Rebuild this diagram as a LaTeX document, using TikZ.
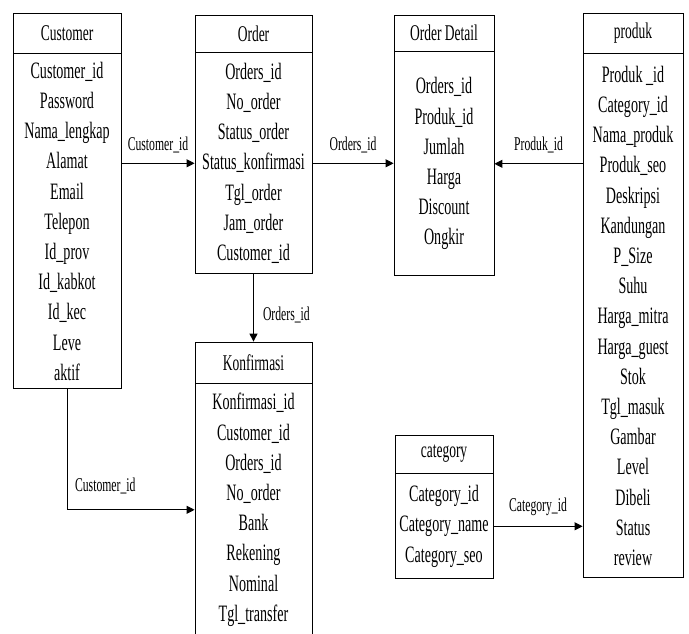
\documentclass[tikz,border=0pt]{standalone}
\usepackage{fontspec}
\setmainfont{Liberation Serif}[FakeStretch=0.6]
\usetikzlibrary{arrows.meta, positioning}
\tikzstyle{head} = [rectangle, draw=black, line width=0.8pt, text centered, font=\fontsize{22.5}{26}\selectfont]
\tikzstyle{attrs} = [rectangle, draw=black, line width=0.8pt, align=center, inner sep=1pt, font=\fontsize{23.5}{30.2}\selectfont]
\tikzstyle{arrow} = [line width=1pt, -{Triangle[length=8pt, width=8pt]}]
\tikzstyle{lbl} = [font=\fontsize{19.5}{22}\selectfont, inner sep=1pt]

\begin{document}
\begin{tikzpicture}[x=1pt, y=-1pt, node distance=0pt]
    \useasboundingbox (0,0) rectangle (689,633);
    % tables
    \node (custhead) [head, minimum width=108pt, minimum height=40pt] at (67,33) {Customer};
    \node (custbody) [attrs, minimum width=108pt, minimum height=335pt, below=of custhead] {Customer\_id\\Password\\Nama\_lengkap\\Alamat\\Email\\Telepon\\Id\_prov\\Id\_kabkot\\Id\_kec\\Leve\\aktif};
    \node (ordhead) [head, minimum width=117pt, minimum height=37pt] at (253.5,33.5) {Order};
    \node (ordbody) [attrs, minimum width=117pt, minimum height=221pt, below=of ordhead] {Orders\_id\\No\_order\\Status\_order\\Status\_konfirmasi\\Tgl\_order\\Jam\_order\\Customer\_id};
    \node (odhead) [head, minimum width=100pt, minimum height=36pt] at (444,33) {Order Detail};
    \node (odbody) [attrs, minimum width=100pt, minimum height=224pt, below=of odhead] {Orders\_id\\Produk\_id\\Jumlah\\Harga\\Discount\\Ongkir};
    \node (prodhead) [head, minimum width=100pt, minimum height=40pt] at (633,33) {produk};
    \node (prodbody) [attrs, minimum width=100pt, minimum height=524pt, below=of prodhead] {Produk \_id\\Category\_id\\Nama\_produk\\Produk\_seo\\Deskripsi\\Kandungan\\P\_Size\\Suhu\\Harga\_mitra\\Harga\_guest\\Stok\\Tgl\_masuk\\Gambar\\Level\\Dibeli\\Status\\review};
    \node (konfhead) [head, minimum width=117pt, minimum height=41pt] at (253.5,362.5) {Konfirmasi};
    \node (konfbody) [attrs, minimum width=117pt, minimum height=252pt, below=of konfhead] {Konfirmasi\_id\\Customer\_id\\Orders\_id\\No\_order\\Bank\\Rekening\\Nominal\\Tgl\_transfer};
    \node (cathead) [head, minimum width=98pt, minimum height=38pt] at (444,454) {category};
    \node (catbody) [attrs, minimum width=98pt, minimum height=105pt, below=of cathead] {Category\_id\\Category\_name\\Category\_seo};

    % relations
    \draw [arrow] (custbody.east |- ordbody) -- node[lbl, above=9pt] {Customer\_id} (ordbody.west);
    \draw [arrow] (ordbody.east) -- node[lbl, above=9pt] {Orders\_id} (ordbody.east -| odbody.west);
    \draw [arrow] (prodbody.west |- odbody) -- node[lbl, above=9pt] {Produk\_id} (odbody.east);
    \draw [arrow] (ordbody.south) -- node[lbl, right=8pt, pos=0.6] {Orders\_id} (konfhead.north);
    \draw [arrow] (custbody.south) |- node[lbl, above=14pt, pos=0.65] {Customer\_id} (konfbody.west);
    \draw [arrow] (catbody.east) -- node[lbl, above=9pt] {Category\_id} (catbody.east -| prodbody.west);
\end{tikzpicture}
\end{document}
